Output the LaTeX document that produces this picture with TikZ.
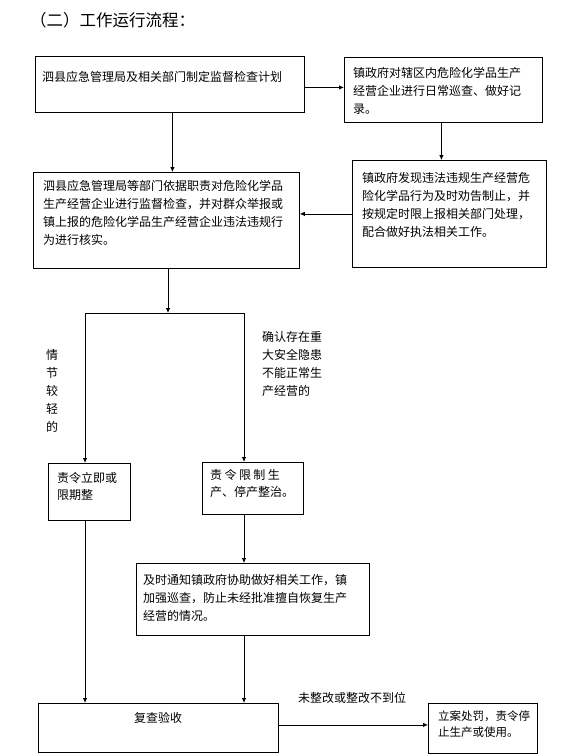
\documentclass[tikz,border=0pt]{standalone}
\usepackage{fontspec}
\setmainfont{Noto Sans CJK SC}
\usetikzlibrary{arrows.meta}
\begin{document}
\begin{tikzpicture}[x=1pt,y=-1pt,
  box/.style={draw, line width=0.8pt, anchor=north west, inner sep=0pt},
  txt/.style={anchor=north west, inner sep=0pt, align=left, font=\fontsize{12pt}{18pt}\selectfont},
  lbl/.style={inner sep=0pt, font=\fontsize{12pt}{18pt}\selectfont},
  arr/.style={line width=0.8pt, -{Latex[length=5pt,width=4.5pt]}},
  ln/.style={line width=0.8pt}]
\useasboundingbox (0,0) rectangle (579,756);

% title
\node[anchor=base west, inner sep=0pt, font=\fontsize{16.5pt}{20pt}\selectfont] (title) at (30,26) {（二）工作运行流程：};

% boxes
\node[box, minimum width=269pt, minimum height=56pt] (A) at (35,56) {};
\node[box, minimum width=198pt, minimum height=65pt] (B) at (344,57) {};
\node[box, minimum width=266pt, minimum height=96pt] (C) at (33,172) {};
\node[box, minimum width=194pt, minimum height=107pt] (D) at (352,160) {};
\node[box, minimum width=82pt, minimum height=57pt] (E) at (48,463) {};
\node[box, minimum width=101pt, minimum height=52pt] (F) at (202,462) {};
\node[box, minimum width=233pt, minimum height=72pt] (G) at (136,563) {};
\node[box, minimum width=240pt, minimum height=49pt] (H) at (38,703) {};
\node[box, minimum width=109pt, minimum height=50pt] (I) at (428,703) {};

% texts
\node[txt, anchor=base west] (tA) at (42,81.5) {泗县应急管理局及相关部门制定监督检查计划};
\node[txt] (tB) at (353,67) {镇政府对辖区内危险化学品生产\\经营企业进行日常巡查、做好记\\录。};
\node[txt] (tC) at (43,180) {泗县应急管理局等部门依据职责对危险化学品\\生产经营企业进行监督检查，并对群众举报或\\镇上报的危险化学品生产经营企业违法违规行\\为进行核实。};
\node[txt] (tD) at (362,172) {镇政府发现违法违规生产经营危\\险化学品行为及时劝告制止，并\\按规定时限上报相关部门处理，\\配合做好执法相关工作。};
\node[txt, font=\fontsize{12pt}{17pt}\selectfont] (tE) at (57,472) {责令立即或\\限期整};
\node[txt, font=\fontsize{12pt}{17pt}\selectfont] (tF) at (210,469) {责\hspace{2.4pt}令\hspace{2.4pt}限\hspace{2.4pt}制\hspace{2.4pt}生\\产、停产整治。};
\node[txt] (tG) at (143,574) {及时通知镇政府协助做好相关工作，镇\\加强巡查，防止未经批准擅自恢复生产\\经营的情况。};
\node[lbl] (tH) at (158,718) {复查验收};
\node[txt, font=\fontsize{11.5pt}{16pt}\selectfont] (tI) at (438,711) {立案处罚，责令停\\止生产或使用。};

% labels
\node[lbl, align=center, anchor=north] (l1) at (52,349) {情\\节\\较\\轻\\的};
\node[lbl, align=left, anchor=north west] (l2) at (262,331) {确认存在重\\大安全隐患\\不能正常生\\产经营的};
\node[lbl] (l3) at (352,698) {未整改或整改不到位};

% connectors
\coordinate (S) at (168,313);
\coordinate (SL) at (85,313);
\coordinate (SR) at (244,313);
\draw[arr] ([yshift=-3pt]A.east) -- ([yshift=-3pt]A.east -| B.west);
\draw[arr] ([xshift=2.5pt]A.south) -- ([xshift=2.5pt]A.south |- C.north);
\draw[arr] ([xshift=-2pt]B.south) -- ([xshift=-2pt]B.south |- D.north);
\draw[arr] (D.west) -- (D.west -| C.east);
\draw[arr] (C.south -| S) -- (S);
\draw[ln] (SL) -- (SR);
\draw[arr] (SL) -- (SL |- E.north);
\draw[arr] (SR) -- (SR |- F.north);
\draw[arr] (SR |- F.south) -- (SR |- G.north);
\draw[arr] (SR |- G.south) -- (SR |- H.north);
\draw[arr] (SL |- E.south) -- (SL |- H.north);
\draw[arr] ([yshift=3pt]H.east) -- ([yshift=3pt]H.east -| I.west);
\end{tikzpicture}
\end{document}
